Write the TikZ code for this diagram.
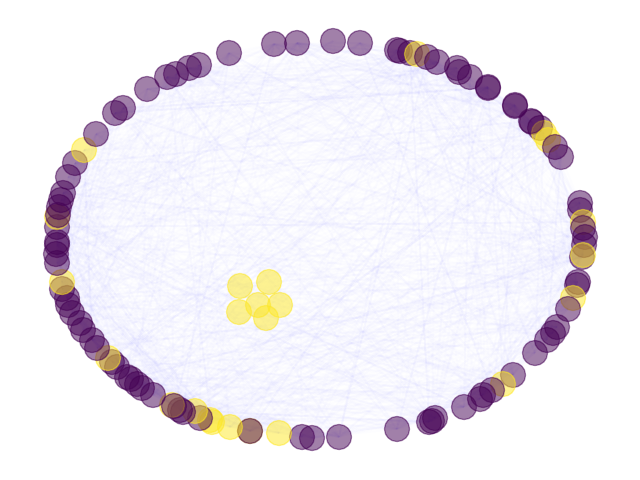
\documentclass[tikz,border=0pt]{standalone}
\usepackage{tikz}
\usetikzlibrary{backgrounds}
\definecolor{vpurple}{HTML}{440154}
\definecolor{vyellow}{HTML}{FDE725}
\definecolor{edgeblue}{RGB}{80, 80, 255}

\begin{document}
\begin{tikzpicture}[x=0.025cm, y=-0.025cm,
    vert/.style={circle, minimum size=0.625cm, inner sep=0pt, opacity=0.5, line width=0.9pt},
    lo/.style={vert, fill=vpurple, draw=vpurple},
    hi/.style={vert, fill=vyellow, draw=vyellow},
    edge/.style={edgeblue, opacity=0.013, line width=1.4pt}]
  \useasboundingbox (0,0) rectangle (640,480);

  % ring of vertices, clockwise from the top left
  \foreach [count=\i] \px/\py/\c in {
      229/53/lo, 274/44/lo, 297/43/lo, 333/41/lo, 360/43/lo,
      397/50/lo, 400/51/lo, 410/53/lo, 417/54/hi, 427/57/lo,
      437/62/lo, 457/68/lo, 459/72/lo, 470/77/lo, 488/87/lo,
      515/105/lo, 532/122/lo, 540/128/lo, 544/133/hi, 548/140/hi,
      555/147/lo, 561/157/lo, 580/203/lo, 580/210/lo, 583/222/hi,
      583/228/lo, 585/237/lo, 584/245/lo, 582/257/lo, 583/255/hi,
      578/282/lo, 577/285/lo, 573/298/hi, 568/309/lo, 557/327/lo,
      553/333/lo, 547/340/lo, 535/353/lo, 513/375/lo, 503/384/hi,
      492/390/lo, 483/395/lo, 480/399/lo, 464/407/lo, 435/418/lo,
      432/421/lo, 429/422/lo, 397/429/lo, 339/437/lo, 312/438/lo,
      302/437/lo, 279/433/hi, 250/431/hi, 250/431/lo, 230/427/hi,
      212/422/hi, 210/420/hi, 200/418/lo, 195/411/hi, 183/412/lo,
      180/410/lo, 172/405/hi, 174/406/lo, 153/395/lo, 142/388/lo,
      137/384/lo, 131/379/lo, 127/377/lo, 117/367/lo, 112/362/lo,
      108/358/hi, 97/348/lo, 92/340/lo, 83/330/lo, 80/323/lo,
      72/313/lo, 68/305/lo, 67/298/lo, 62/289/lo, 62/282/hi,
      57/263/lo, 56/254/lo, 57/245/lo, 57/242/lo, 57/227/lo,
      57/217/hi, 58/215/lo, 59/207/lo, 61/200/lo, 63/193/lo,
      68/177/lo, 75/163/lo, 84/150/hi, 96/134/lo, 115/113/lo,
      123/108/lo, 147/89/lo, 167/77/lo, 176/74/lo, 189/68/lo,
      199/65/lo, 488/88/lo, 515/106/lo, 531/121/lo}
    \node[\c] (v\i) at (\px,\py) {};

  % the small group in the middle
  \foreach [count=\i] \px/\py in {240/286, 269/282, 239/312, 258/305, 280/305, 266/318}
    \node[hi] (w\i) at (\px,\py) {};

  % edges, behind the vertices
  \begin{scope}[on background layer]
    \pgfmathsetseed{11}
    \foreach \k in {1,...,1300}{
      \pgfmathrandominteger{\a}{1}{104}
      \pgfmathrandominteger{\b}{1}{104}
      \draw[edge] (v\a.center) -- (v\b.center);
    }
  \end{scope}
\end{tikzpicture}
\end{document}
